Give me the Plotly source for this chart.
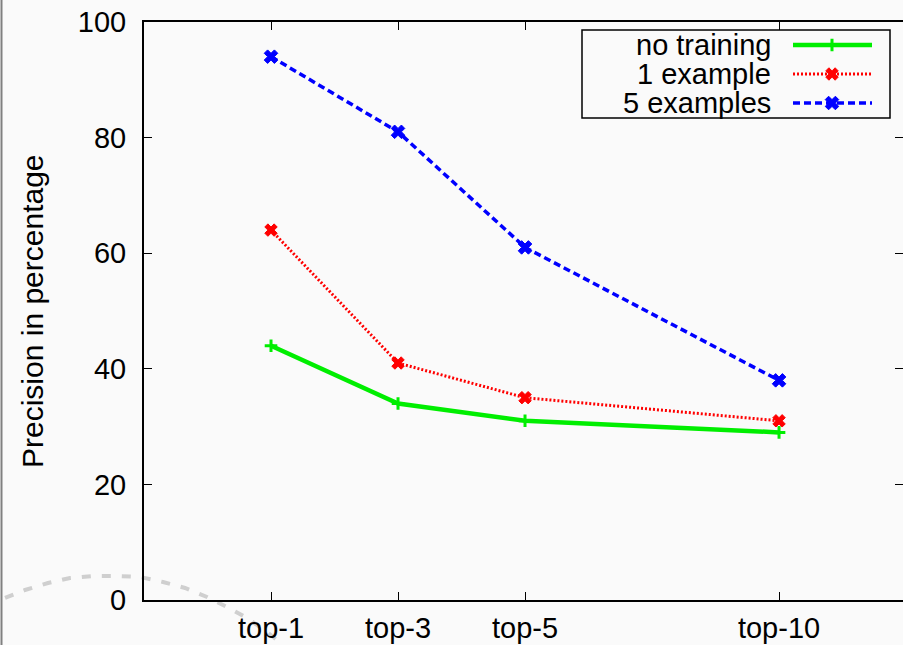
import plotly.graph_objects as go

# ---- data ----
categories = ["top-1", "top-3", "top-5", "top-10"]
x_positions = [1, 2, 3, 5]
no_training = [44, 34, 31, 29]
one_example = [64, 41, 35, 31]
five_examples = [94, 81, 61, 38]
y_ticks = [0, 20, 40, 60, 80, 100]

W, H = 903, 645
L, T, B, R = 144, 22, 45, 0
X_RANGE = [0, 5.976]
Y_RANGE = [0, 100]
BG = "#fafafa"
FONT = "Liberation Sans, Arial, Helvetica, sans-serif"
FS = 29

pw = W - L - R
ph = H - T - B


def px2data(px, py):
    x = X_RANGE[0] + (px - L) / pw * (X_RANGE[1] - X_RANGE[0])
    y = Y_RANGE[0] + (T + ph - py) / ph * (Y_RANGE[1] - Y_RANGE[0])
    return x, y


def px2paper(px, py):
    return (px - L) / pw, (T + ph - py) / ph


series = [
    ("no training", no_training, "#00ee00", 4.5, "solid", "cross-thin", 9, 3),
    ("1 example", one_example, "#ff0000", 3, "2px,2px", "x", 11, 1),
    ("5 examples", five_examples, "#0000ff", 3.5, "7px,4px", "x", 12, 1),
]

fig = go.Figure()
for name, vals, col, lw, dash, sym, ms, mlw in series:
    fig.add_trace(go.Scatter(
        x=x_positions, y=vals, mode="lines+markers", name=name,
        line=dict(color=col, width=lw, dash=dash),
        marker=dict(symbol=sym, size=ms, color=col,
                    line=dict(color=col, width=mlw)),
        showlegend=False,
    ))

# right-side mirror ticks (no line)
fig.add_trace(go.Scatter(x=[None], y=[None], yaxis="y2", showlegend=False))

shapes = []
annotations = []

# custom gnuplot-style legend
bx0, by0 = px2paper(582, 30)
bx1, by1 = px2paper(890, 118)
shapes.append(dict(type="rect", xref="paper", yref="paper", x0=bx0, y0=by1,
                   x1=bx1, y1=by0, line=dict(color="black", width=1.5),
                   fillcolor=BG, layer="below"))
row_y = [45, 74, 103]
for (name, vals, col, lw, dash, sym, ms, mlw), ry in zip(series, row_y):
    tx, ty = px2paper(773, ry)
    annotations.append(dict(xref="paper", yref="paper", x=tx, y=ty,
                            text=name, showarrow=False, xanchor="right",
                            yanchor="middle",
                            font=dict(family=FONT, size=FS, color="black")))
    lx0, ly = px2data(793, ry)
    lx1, _ = px2data(872, ry)
    mx, _ = px2data(832, ry)
    fig.add_trace(go.Scatter(
        x=[lx0, lx1], y=[ly, ly], mode="lines", showlegend=False,
        line=dict(color=col, width=lw, dash=dash), cliponaxis=False,
        hoverinfo="skip"))
    fig.add_trace(go.Scatter(
        x=[mx], y=[ly], mode="markers", showlegend=False, cliponaxis=False,
        marker=dict(symbol=sym, size=ms, color=col,
                    line=dict(color=col, width=mlw)), hoverinfo="skip"))

# y-axis title
ax, ay = px2paper(32, 311)
annotations.append(dict(xref="paper", yref="paper", x=ax, y=ay,
                        text="Precision in percentage", textangle=-90,
                        showarrow=False, xanchor="center", yanchor="middle",
                        font=dict(family=FONT, size=30, color="black")))

# decorative dashed arc & left border of the source page
arc_px = [(5, 598), (25, 590), (48, 583), (70, 578), (93, 576), (117, 576),
          (140, 577), (163, 582), (185, 588), (207, 597), (227, 607),
          (247, 618), (267, 632), (283, 645)]
pts = [px2paper(a, b) for a, b in arc_px]
path = "M " + " L ".join(f"{p[0]:.4f},{p[1]:.4f}" for p in pts)
shapes.append(dict(type="path", xref="paper", yref="paper", path=path,
                   line=dict(color="#cfcfcf", width=4, dash="9px,11px"),
                   layer="below"))
lx, _ = px2paper(1.5, 0)
shapes.append(dict(type="line", xref="paper", yref="paper",
                   x0=lx, x1=lx, y0=px2paper(0, 645)[1], y1=px2paper(0, 0)[1],
                   line=dict(color="#808080", width=2)))

fig.update_layout(
    width=W, height=H,
    margin=dict(l=L, r=R, t=T, b=B, pad=0, autoexpand=False),
    paper_bgcolor=BG, plot_bgcolor=BG,
    font=dict(family=FONT, size=FS, color="black"),
    showlegend=False,
    shapes=shapes, annotations=annotations,
    xaxis=dict(range=X_RANGE, tickmode="array", tickvals=x_positions,
               ticktext=categories, ticks="inside", ticklen=8, tickwidth=1.2,
               tickcolor="black", showline=True, linecolor="black",
               linewidth=2, mirror="ticks", showgrid=False, zeroline=False,
               ticklabelstandoff=1, tickfont=dict(size=FS),
               automargin=False),
    yaxis=dict(range=Y_RANGE, tickmode="array", tickvals=y_ticks,
               ticks="inside", ticklen=8, tickwidth=1.2, tickcolor="black",
               showline=True, linecolor="black", linewidth=2,
               showgrid=False, zeroline=False, ticklabelstandoff=10,
               tickfont=dict(size=FS), automargin=False),
    yaxis2=dict(range=Y_RANGE, overlaying="y", side="right",
                tickmode="array", tickvals=y_ticks, ticks="inside",
                ticklen=8, tickwidth=1.2, tickcolor="black",
                showticklabels=False, showline=False, showgrid=False,
                zeroline=False, automargin=False),
)

fig.write_html(
    "out.html",
    config={"displayModeBar": False},
    post_script="document.body.style.margin='0';"
                "document.body.style.overflow='hidden';"
                "document.body.style.background='#fafafa';",
)
